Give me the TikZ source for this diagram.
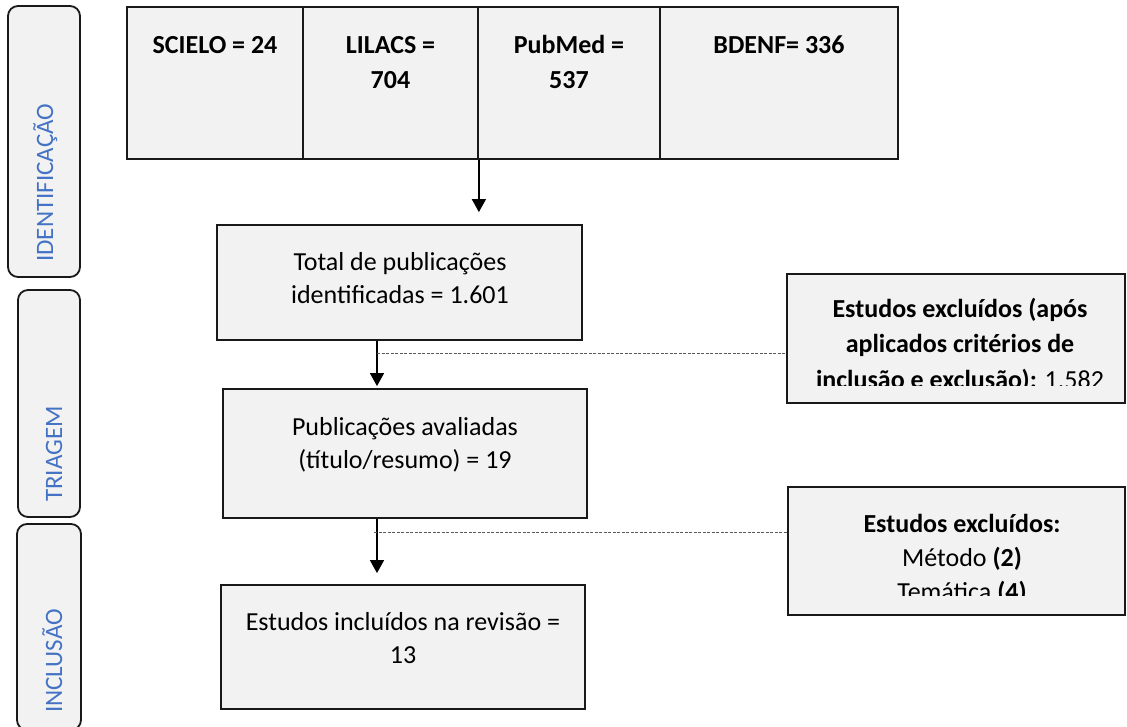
\documentclass[tikz,border=0pt]{standalone}
\usepackage{xcolor}
\usepackage{fontspec}
\setmainfont{Carlito}
\usetikzlibrary{calc, arrows.meta, positioning}

\definecolor{boxfill}{HTML}{F2F2F2}
\definecolor{phaseblue}{HTML}{4472C4}

\begin{document}
\begin{tikzpicture}[x=1pt, y=-1pt,
		box/.style={draw=black!90, line width=1.8pt, fill=boxfill, inner sep=0pt},
		phase/.style={box, rounded corners=10pt},
		phaselabel/.style={text=phaseblue, rotate=90, anchor=base west, inner sep=0pt, font=\fontsize{25}{30}\selectfont},
		srctext/.style={anchor=base, align=center, inner sep=0pt, font=\fontsize{26}{35}\selectfont\bfseries},
		boxtext/.style={anchor=base, align=center, inner sep=0pt, font=\fontsize{26}{32.5}\selectfont},
		flow/.style={line width=1.5pt, -{Triangle[width=14pt,length=13pt]}},
		excl/.style={line width=0.9pt, draw=black!65, dash pattern=on 3pt off 1.5pt}
	]
		\def\spine{377};
		\def\rowy{83};
		\def\rowh{152};
		
		\path[use as bounding box, clip] (0,0) rectangle (1127,726);
		
		% fases
		\node [phase, minimum width=72pt, minimum height=271pt] (ident) at (44,141.5) {};
		\node [phase, minimum width=62pt, minimum height=227pt] (triage) at (49,403.5) {};
		\node [phase, minimum width=64pt, minimum height=206pt] (inclus) at (49,627) {};
		\node [phaselabel] (ident label) at (53,262) {IDENTIFICAÇÃO};
		\node [phaselabel] (triage label) at (62,502) {TRIAGEM};
		\node [phaselabel] (inclus label) at (62,713) {INCLUSÃO};
		
		% bases de dados (base = ultima linha)
		\node [box, minimum width=176pt, minimum height=\rowh] (scielo) at (215,\rowy) {};
		\node [box, minimum width=175pt, minimum height=\rowh] (lilacs) at (390.5,\rowy) {};
		\node [box, minimum width=182pt, minimum height=\rowh] (pubmed) at (569,\rowy) {};
		\node [box, minimum width=238pt, minimum height=\rowh] (bdenf) at (779,\rowy) {};
		\node [srctext] (scielo text) at (215,53) {SCIELO = 24};
		\node [srctext] (lilacs text) at (390.5,88) {LILACS =\\704};
		\node [srctext] (pubmed text) at (569,88) {PubMed =\\537};
		\node [srctext] (bdenf text) at (779,53) {BDENF= 336};
		
		% fluxo
		\node [box, minimum width=365pt, minimum height=115pt] (total) at (399.5,282.5) {};
		\node [boxtext] (total text) at (400,303) {Total de publicações\\identificadas = 1.601};
		
		\node [box, minimum width=364pt, minimum height=129pt] (eval) at (405,453.5) {};
		\node [boxtext] (eval text) at (405,468) {Publicações avaliadas\\(título/resumo) = 19};
		
		\node [box, minimum width=364pt, minimum height=124pt] (incl) at (403,647) {};
		\node [boxtext] (incl text) at (403,663) {Estudos incluídos na revisão =\\13};
		
		% excluidos (texto cortado pela caixa)
		\node [box, minimum width=338pt, minimum height=129pt] (excl1) at (956,338.5) {};
		\node [box, minimum width=337pt, minimum height=128pt] (excl2) at (956.5,551) {};
		\begin{scope}
			\clip (excl1.north west) rectangle ($(excl1.east)+(0,46.5)$);
			\node [boxtext, font=\fontsize{26}{35.5}\selectfont] (excl1 text) at (960,388) {\textbf{Estudos excluídos (após}\\\textbf{aplicados critérios de}\\\textbf{inclusão e exclusão):} 1.582};
		\end{scope}
		\begin{scope}
			\clip (excl2.north west) rectangle ($(excl2.east)+(0,44)$);
			\node [boxtext, font=\fontsize{26}{34}\selectfont] (excl2 text) at (962,600) {\textbf{Estudos excluídos:}\\Método \textbf{(2)}\\Temática \textbf{(4)}};
		\end{scope}
		
		\draw [flow, shorten >=12pt] (lilacs.south east) -- (lilacs.south east |- total.north);
		\draw [flow, shorten >=2pt] (total.south -| \spine,0) -- (eval.north -| \spine,0);
		\draw [flow, shorten >=11pt] (eval.south -| \spine,0) -- (incl.north -| \spine,0);
		
		\coordinate (d1) at (\spine,353);
		\coordinate (d2) at (\spine-3,532);
		\draw [excl] (d1) -- (d1 -| excl1.west);
		\draw [excl] (d2) -- (d2 -| excl2.west);
	\end{tikzpicture}
\end{document}
